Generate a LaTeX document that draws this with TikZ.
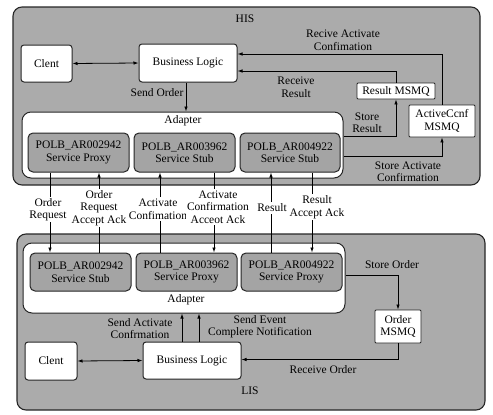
\documentclass[tikz,border=0pt]{standalone}
\usepackage{fontspec}
\setmainfont{Liberation Serif}
\usetikzlibrary{arrows.meta}
\definecolor{bggray}{HTML}{ABABAB}
\definecolor{boxgray}{HTML}{A4A4A4}
\begin{document}
\begin{tikzpicture}[x=1pt,y=-1pt,
 font=\fontsize{11.5}{12.5}\selectfont,
 outer/.style={draw=black!85, line width=1.1pt, fill=bggray, rounded corners=9pt, inner sep=0pt},
 adapterbox/.style={draw=black!85, line width=1pt, fill=white, rounded corners=9pt, inner sep=0pt},
 svc/.style={draw=black!85, line width=1pt, fill=boxgray, rounded corners=5pt, align=center, inner sep=0pt},
 wbox/.style={draw=black!85, line width=1pt, fill=white, rounded corners=3pt, align=center, inner sep=0pt},
 mq/.style={draw=black!85, line width=0.9pt, fill=white, rounded corners=1pt, align=center, inner sep=0pt},
 lbl/.style={align=center, inner sep=1pt},
 wlbl/.style={align=center, fill=white, inner sep=1.5pt},
 conn/.style={line width=0.8pt, -{Latex[length=5pt,width=3.5pt]}},
 dconn/.style={line width=0.8pt, {Latex[length=5pt,width=3.5pt]}-{Latex[length=5pt,width=3.5pt]}},
 plain/.style={line width=0.8pt}
]
\useasboundingbox (0,0) rectangle (493,415);

% ---------------- HIS ----------------
\node[outer, minimum width=467pt, minimum height=178pt] (his) at (246.5,96) {};
\node[lbl] (hislbl) at (245,19) {HIS};
\node[wbox, minimum width=51pt, minimum height=37pt] (cl1) at (46.5,63.5) {Clent};
\node[wbox, minimum width=98pt, minimum height=38pt] (bl1) at (188,63) {Business Logic};
\node[mq, minimum width=78pt, minimum height=16pt] (rmq) at (396,91) {Result MSMQ};
\node[mq, minimum width=66pt, minimum height=32pt] (acq) at (442,121) {ActiveCcnf\\MSMQ};
\node[adapterbox, minimum width=321pt, minimum height=66pt] (adp1) at (182.5,145) {};
\node[lbl] (adl1) at (183,121) {Adapter};
\node[svc, minimum width=101pt, minimum height=39pt] (hp1) at (78.5,152.5) {POLB\_AR002942\\Service Proxy};
\node[svc, minimum width=101pt, minimum height=39pt] (hp2) at (184.5,152.5) {POLB\_AR003962\\Service Stub};
\node[svc, minimum width=100pt, minimum height=39pt] (hp3) at (290,152.5) {POLB\_AR004922\\Service Stub};

\draw[dconn] (cl1.east) -- (bl1.west);
\draw[conn] (acq.north) |- ([yshift=9pt]bl1.east);
\draw[conn] (rmq.north) |- ([yshift=-8pt]bl1.east);
\draw[conn] ([xshift=-2pt]bl1.south) -- ([xshift=-2pt]bl1.south |- adp1.north);
\draw[conn] ([yshift=9pt]adp1.east) -| (rmq.south);
\draw[conn] ([yshift=-11pt]adp1.east) -| (acq.south);

\node[lbl] (lsendorder) at (157,93) {Send Order};
\node[lbl] (lrecres) at (296,87) {Receive\\Result};
\node[lbl] (lrecact) at (343,40) {Recive Activate\\Confimation};
\node[lbl] (lstoreres) at (367,122.5) {Store\\Result};
\node[lbl] (lstoreact) at (408,171.5) {Store Activate\\Confirmation};

% ---------------- LIS ----------------
\node[outer, minimum width=468pt, minimum height=176pt] (lis) at (251,322) {};
\node[lbl] (lislbl) at (250,391) {LIS};
\node[adapterbox, minimum width=322pt, minimum height=70pt] (adp2) at (184,278) {};
\node[lbl] (adl2) at (186,300) {Adapter};
\node[svc, minimum width=101pt, minimum height=38pt] (ls1) at (80.5,272) {POLB\_AR002942\\Service Stub};
\node[svc, minimum width=101pt, minimum height=38pt] (ls2) at (186.5,272) {POLB\_AR003962\\Service Proxy};
\node[svc, minimum width=101pt, minimum height=38pt] (ls3) at (291.5,272) {POLB\_AR004922\\Service Proxy};
\node[mq, minimum width=46pt, minimum height=33pt] (omq) at (398,326.5) {Order\\MSMQ};
\node[wbox, minimum width=52pt, minimum height=38pt] (cl2) at (51,361) {Clent};
\node[wbox, minimum width=98pt, minimum height=37pt] (bl2) at (192,360.5) {Business Logic};

\draw[dconn] (cl2.east) -- (bl2.west);
\draw[conn] ([yshift=3pt]adp2.east) -| (omq.north);
\draw[conn] (omq.south) |- ([yshift=1pt]bl2.east);
\draw[conn] ([xshift=-10pt]bl2.north) -- ([xshift=-10pt]bl2.north |- adp2.south);
\draw[conn] ([xshift=7pt]bl2.north) -- ([xshift=7pt]bl2.north |- adp2.south);

\node[lbl] (lstoreord) at (392,265) {Store Order};
\node[lbl] (lrecord) at (323,370) {Receive Order};
\node[lbl] (lsendact) at (140,328.5) {Send Activate\\Confrmation};
\node[lbl] (lsendev) at (260,326.5) {Send Event\\Complere Notification};

% ---------------- between ----------------
\draw[conn] ([xshift=-28.5pt]hp1.south) -- ([xshift=-28.5pt]hp1.south |- ls1.north);
\draw[conn] ([xshift=20.5pt]hp1.south |- ls1.north) -- ([xshift=20.5pt]hp1.south);
\draw[conn] ([xshift=-24.5pt]hp2.south |- ls2.north) -- ([xshift=-24.5pt]hp2.south);
\draw[conn] ([xshift=29.5pt]hp2.south) -- ([xshift=29.5pt]hp2.south |- ls2.north);
\draw[conn] ([xshift=-19pt]hp3.south |- ls3.north) -- ([xshift=-19pt]hp3.south);
\draw[conn] ([xshift=22pt]hp3.south) -- ([xshift=22pt]hp3.south |- ls3.north);

\node[wlbl] (lordreq) at (48,209.5) {Order\\Request};
\node[wlbl] (lordack) at (99,208) {Order\\Request\\Accept Ack};
\node[wlbl] (lactconf) at (158,209) {Activate\\Confimation};
\node[wlbl] (lactack) at (218,207) {Activate\\Confirmation\\Acceot Ack};
\node[wlbl] (lresult) at (272,208) {Result};
\node[wlbl] (lresack) at (317,207) {Result\\Accept Ack};
\end{tikzpicture}
\end{document}
